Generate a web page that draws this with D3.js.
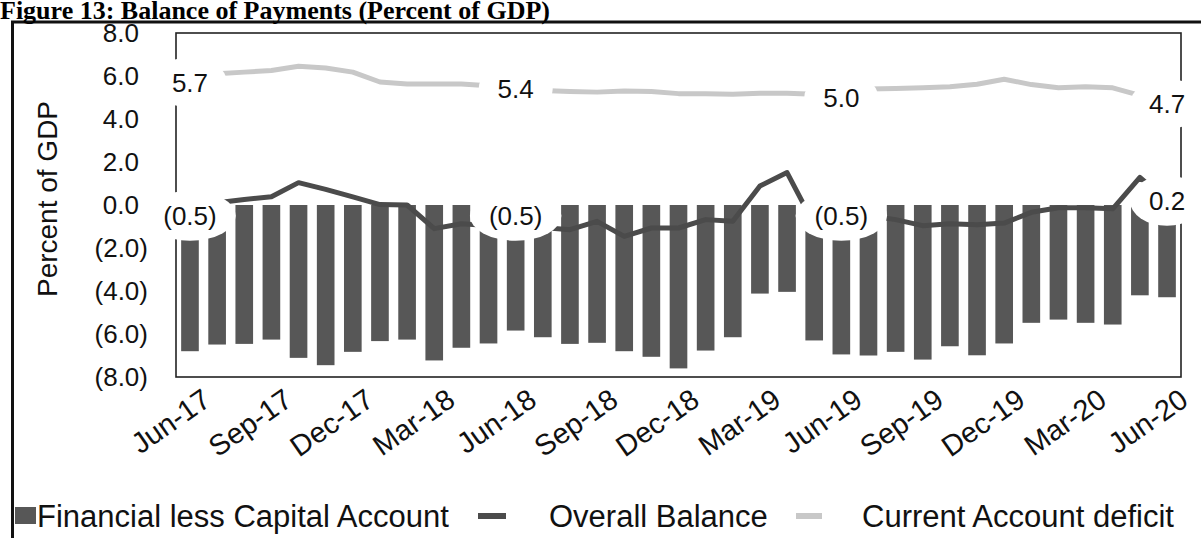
<!DOCTYPE html>
<html><head><meta charset="utf-8">
<script src="https://cdn.jsdelivr.net/npm/d3@7"></script>
<style>body{margin:0;background:#fff}svg{display:block}</style>
</head><body>
<svg id="chart" width="1201" height="538"></svg>
<script>
const months = ["Jun-17","Jul-17","Aug-17","Sep-17","Oct-17","Nov-17","Dec-17","Jan-18","Feb-18","Mar-18","Apr-18","May-18",
  "Jun-18","Jul-18","Aug-18","Sep-18","Oct-18","Nov-18","Dec-18","Jan-19","Feb-19","Mar-19","Apr-19","May-19",
  "Jun-19","Jul-19","Aug-19","Sep-19","Oct-19","Nov-19","Dec-19","Jan-20","Feb-20","Mar-20","Apr-20","May-20","Jun-20"];
const finLessCapital = [-6.80,-6.49,-6.46,-6.26,-7.11,-7.45,-6.83,-6.33,-6.26,-7.23,-6.64,-6.44,
  -5.84,-6.15,-6.46,-6.41,-6.80,-7.06,-7.60,-6.77,-6.15,-4.12,-4.04,-6.30,
  -6.95,-7.00,-6.83,-7.19,-6.57,-6.99,-6.44,-5.48,-5.33,-5.48,-5.56,-4.20,-4.29];
const overallBalance = [-0.5,0.1,0.26,0.38,1.04,0.73,0.38,0.02,0.0,-1.1,-0.87,-0.95,
  -0.5,-1.05,-1.15,-0.76,-1.46,-1.07,-1.07,-0.68,-0.76,0.88,1.51,-0.9,
  -0.5,-0.5,-0.68,-0.96,-0.87,-0.92,-0.84,-0.34,-0.13,-0.13,-0.18,1.28,0.2];
const currentAccount = [5.7,6.1,6.18,6.26,6.45,6.37,6.18,5.72,5.63,5.63,5.63,5.55,
  5.4,5.32,5.28,5.25,5.3,5.28,5.18,5.18,5.15,5.2,5.2,5.15,
  5.0,5.4,5.42,5.45,5.5,5.62,5.85,5.6,5.45,5.5,5.45,5.1,4.7];
const xTickLabels = ["Jun-17","Sep-17","Dec-17","Mar-18","Jun-18","Sep-18","Dec-18","Mar-19","Jun-19","Sep-19","Dec-19","Mar-20","Jun-20"];
const yTicks = [8,6,4,2,0,-2,-4,-6,-8];
const labelIndex = [0,12,24,36];
const seriesNames = ["Financial less Capital Account","Overall Balance","Current Account deficit"];
const titleText = "Figure 13: Balance of Payments (Percent of GDP)";
const yTitle = "Percent of GDP";

const barColor = "#575757", obColor = "#4b4b4b", caColor = "#c8c8c8";
const sans = "Liberation Sans, Arial, sans-serif";
const plot = {left:176, right:1181, top:33, bottom:377};
const svg = d3.select("#chart");

svg.append("rect").attr("width",1201).attr("height",538).attr("fill","#fff");
// outer frame
svg.append("rect").attr("x",12.5).attr("y",22).attr("width",1300).attr("height",700)
  .attr("fill","none").attr("stroke","#111").attr("stroke-width",3);
svg.append("text").attr("x",0).attr("y",19).text(titleText)
  .attr("font-family","Liberation Serif, Times New Roman, serif").attr("font-weight","bold").attr("font-size",26).attr("fill","#000");

const x = d3.scaleBand().domain(months).range([plot.left, plot.right]).paddingInner(0.35).paddingOuter(0.19);
const y = d3.scaleLinear().domain([-8, 8]).range([plot.bottom, plot.top]);
const cx = m => x(m) + x.bandwidth()/2;
const fmt = v => v < 0 ? "(" + Math.abs(v).toFixed(1) + ")" : v.toFixed(1);

// plot border
svg.append("rect").attr("x",plot.left).attr("y",plot.top).attr("width",plot.right-plot.left).attr("height",plot.bottom-plot.top)
  .attr("fill","none").attr("stroke","#222").attr("stroke-width",1.6);

// bars
svg.append("g").selectAll("rect").data(finLessCapital).join("rect")
  .attr("x",(d,i)=>x(months[i])).attr("width",x.bandwidth())
  .attr("y",d=>y(Math.max(0,d))).attr("height",d=>Math.abs(y(d)-y(0)))
  .attr("fill",barColor);

// lines
const line = d3.line().x((d,i)=>cx(months[i])).y(d=>y(d));
svg.append("path").datum(currentAccount).attr("d",line).attr("fill","none")
  .attr("stroke",caColor).attr("stroke-width",5).attr("stroke-linejoin","round").attr("stroke-linecap","round");
svg.append("path").datum(overallBalance).attr("d",line).attr("fill","none")
  .attr("stroke",obColor).attr("stroke-width",5).attr("stroke-linejoin","round").attr("stroke-linecap","round");

// data labels with white oval backgrounds
function addLabels(series){
  labelIndex.forEach(i=>{
    const g = svg.append("g").attr("transform",`translate(${cx(months[i])},${y(series[i])})`);
    const el = g.append("ellipse").attr("fill","#fff");
    const t = g.append("text").text(fmt(series[i])).attr("text-anchor","middle").attr("dy","0.36em")
      .attr("font-family",sans).attr("font-size",26).attr("fill","#111");
    const w = t.node().getComputedTextLength();
    el.attr("rx", w/2 + 19).attr("ry", 25);
  });
}
addLabels(overallBalance);
addLabels(currentAccount);

// y axis
const yAxis = svg.append("g").attr("transform",`translate(148,0)`)
  .call(d3.axisLeft(y).tickValues(yTicks).tickFormat(fmt).tickSize(0).tickPadding(0));
yAxis.select(".domain").remove();
yAxis.selectAll("text").attr("x",d=>d<0?0:-9).attr("font-family",sans).attr("font-size",26).attr("fill","#111");

svg.append("text").attr("transform","translate(57,199) rotate(-90)").attr("text-anchor","middle")
  .text(yTitle).attr("font-family",sans).attr("font-size",28).attr("fill","#111");

// x axis
const xAxis = svg.append("g").attr("transform",`translate(${x.bandwidth()/2},${plot.bottom})`)
  .call(d3.axisBottom(x).tickValues(xTickLabels).tickSize(0));
xAxis.select(".domain").remove();
xAxis.selectAll("text").attr("x",null).attr("y",null).attr("dy",null)
  .attr("transform","translate(14,27) rotate(-35)").attr("text-anchor","end")
  .attr("font-family",sans).attr("font-size",29).attr("fill","#111");

// legend
const lg = svg.append("g");
const ly = 516;
lg.append("rect").attr("x",15).attr("y",ly-9).attr("width",21).attr("height",17).attr("fill",barColor);
lg.append("text").attr("x",37).attr("y",ly+11).text(seriesNames[0]).attr("font-family",sans).attr("font-size",31).attr("fill","#111");
lg.append("line").attr("x1",478).attr("x2",506).attr("y1",ly).attr("y2",ly).attr("stroke",obColor).attr("stroke-width",6);
lg.append("text").attr("x",549).attr("y",ly+11).text(seriesNames[1]).attr("font-family",sans).attr("font-size",31).attr("fill","#111");
lg.append("line").attr("x1",796).attr("x2",822).attr("y1",ly).attr("y2",ly).attr("stroke",caColor).attr("stroke-width",6);
lg.append("text").attr("x",862).attr("y",ly+11).text(seriesNames[2]).attr("font-family",sans).attr("font-size",31).attr("fill","#111");
</script>
</body></html>
